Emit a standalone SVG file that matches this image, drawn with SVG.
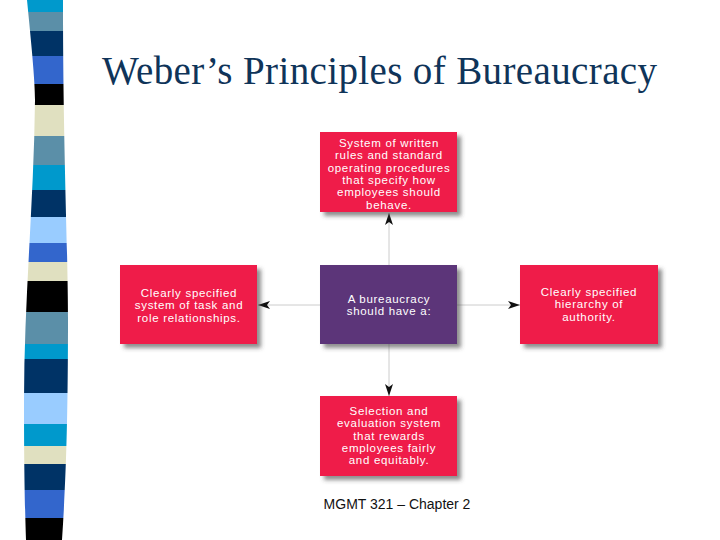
<svg xmlns="http://www.w3.org/2000/svg" width="720" height="540" viewBox="0 0 720 540">
<defs>
<style>
.box{fill:#ef1a4a;filter:url(#sh)}
.ctr{fill:#5b3679;filter:url(#sh)}
.t{font-family:"Liberation Sans",Arial,sans-serif;font-size:11.5px;letter-spacing:0.7px;fill:#ffffff;text-anchor:middle}
.con{stroke:#cccccc;stroke-width:1;fill:none}
</style>
<filter id="sh" x="-10%" y="-10%" width="130%" height="140%">
<feDropShadow dx="4" dy="4" stdDeviation="2.2" flood-color="#404040" flood-opacity="0.6"/>
</filter>
<marker id="ah" viewBox="0 0 12 8" refX="12" refY="4" markerWidth="12" markerHeight="8" markerUnits="userSpaceOnUse" orient="auto">
<path d="M0,0 L12,4 L0,8 L3,4 Z" fill="#111111"/>
</marker>
<clipPath id="strip">
<path d="M27,0 C31,40 35,80 35,100 C34,200 24,300 24,400 C24,470 25,510 26,540 L62,540 C66,480 68,420 68,320 C68,250 63,150 63,0 Z"/>
</clipPath>
</defs>
<rect width="720" height="540" fill="#ffffff"/>
<g id="strip-bands" clip-path="url(#strip)">
<rect x="0" y="0" width="80" height="12" fill="#0099cc"/>
<rect x="0" y="12" width="80" height="19" fill="#5b8fa8"/>
<rect x="0" y="31" width="80" height="25" fill="#003366"/>
<rect x="0" y="56" width="80" height="28" fill="#3366cc"/>
<rect x="0" y="84" width="80" height="21" fill="#000000"/>
<rect x="0" y="105" width="80" height="31" fill="#e0e0c0"/>
<rect x="0" y="136" width="80" height="29" fill="#5b8fa8"/>
<rect x="0" y="165" width="80" height="25" fill="#0099cc"/>
<rect x="0" y="190" width="80" height="27" fill="#003366"/>
<rect x="0" y="217" width="80" height="26" fill="#99ccff"/>
<rect x="0" y="243" width="80" height="19" fill="#3366cc"/>
<rect x="0" y="262" width="80" height="19" fill="#e0e0c0"/>
<rect x="0" y="281" width="80" height="31" fill="#000000"/>
<rect x="0" y="312" width="80" height="32" fill="#5b8fa8"/>
<rect x="0" y="344" width="80" height="15" fill="#0099cc"/>
<rect x="0" y="359" width="80" height="34" fill="#003366"/>
<rect x="0" y="393" width="80" height="31" fill="#99ccff"/>
<rect x="0" y="424" width="80" height="22" fill="#0099cc"/>
<rect x="0" y="446" width="80" height="18" fill="#e0e0c0"/>
<rect x="0" y="464" width="80" height="26" fill="#003366"/>
<rect x="0" y="490" width="80" height="28" fill="#3366cc"/>
<rect x="0" y="518" width="80" height="22" fill="#000000"/>
</g>
<text id="title" x="102" y="84" font-family="'Liberation Serif','Times New Roman',serif" font-size="39" fill="#0f3459" textLength="555" lengthAdjust="spacing">Weber’s Principles of Bureaucracy</text>
<g id="connectors">
<line class="con" x1="389" y1="265" x2="389" y2="213" marker-end="url(#ah)"/>
<line class="con" x1="389" y1="344" x2="389" y2="396" marker-end="url(#ah)"/>
<line class="con" x1="320" y1="305" x2="258" y2="305" marker-end="url(#ah)"/>
<line class="con" x1="457" y1="305" x2="520" y2="305" marker-end="url(#ah)"/>
</g>
<g id="node-top">
<rect class="box" x="320" y="132" width="137" height="80"/>
<text class="t"><tspan x="389" y="147">System of written</tspan><tspan x="389" y="159.3">rules and standard</tspan><tspan x="389" y="171.6">operating procedures</tspan><tspan x="389" y="183.9">that specify how</tspan><tspan x="389" y="196.2">employees should</tspan><tspan x="389" y="208.5">behave.</tspan></text>
</g>
<g id="node-left">
<rect class="box" x="120" y="265" width="137" height="79"/>
<text class="t"><tspan x="189" y="297">Clearly specified</tspan><tspan x="189" y="309.3">system of task and</tspan><tspan x="189" y="321.6">role relationships.</tspan></text>
</g>
<g id="node-center">
<rect class="ctr" x="320" y="265" width="137" height="79"/>
<text class="t"><tspan x="389" y="303">A bureaucracy</tspan><tspan x="389" y="315.3">should have a:</tspan></text>
</g>
<g id="node-right">
<rect class="box" x="520" y="265" width="138" height="79"/>
<text class="t"><tspan x="589" y="296">Clearly specified</tspan><tspan x="589" y="308.3">hierarchy of</tspan><tspan x="589" y="320.6">authority.</tspan></text>
</g>
<g id="node-bottom">
<rect class="box" x="320" y="396" width="137" height="80"/>
<text class="t"><tspan x="389" y="415">Selection and</tspan><tspan x="389" y="427.3">evaluation system</tspan><tspan x="389" y="439.6">that rewards</tspan><tspan x="389" y="451.9">employees fairly</tspan><tspan x="389" y="464.2">and equitably.</tspan></text>
</g>
<text id="footer" x="397" y="509" font-family="'Liberation Sans',Arial,sans-serif" font-size="14" fill="#111111" text-anchor="middle">MGMT 321 – Chapter 2</text>
</svg>
